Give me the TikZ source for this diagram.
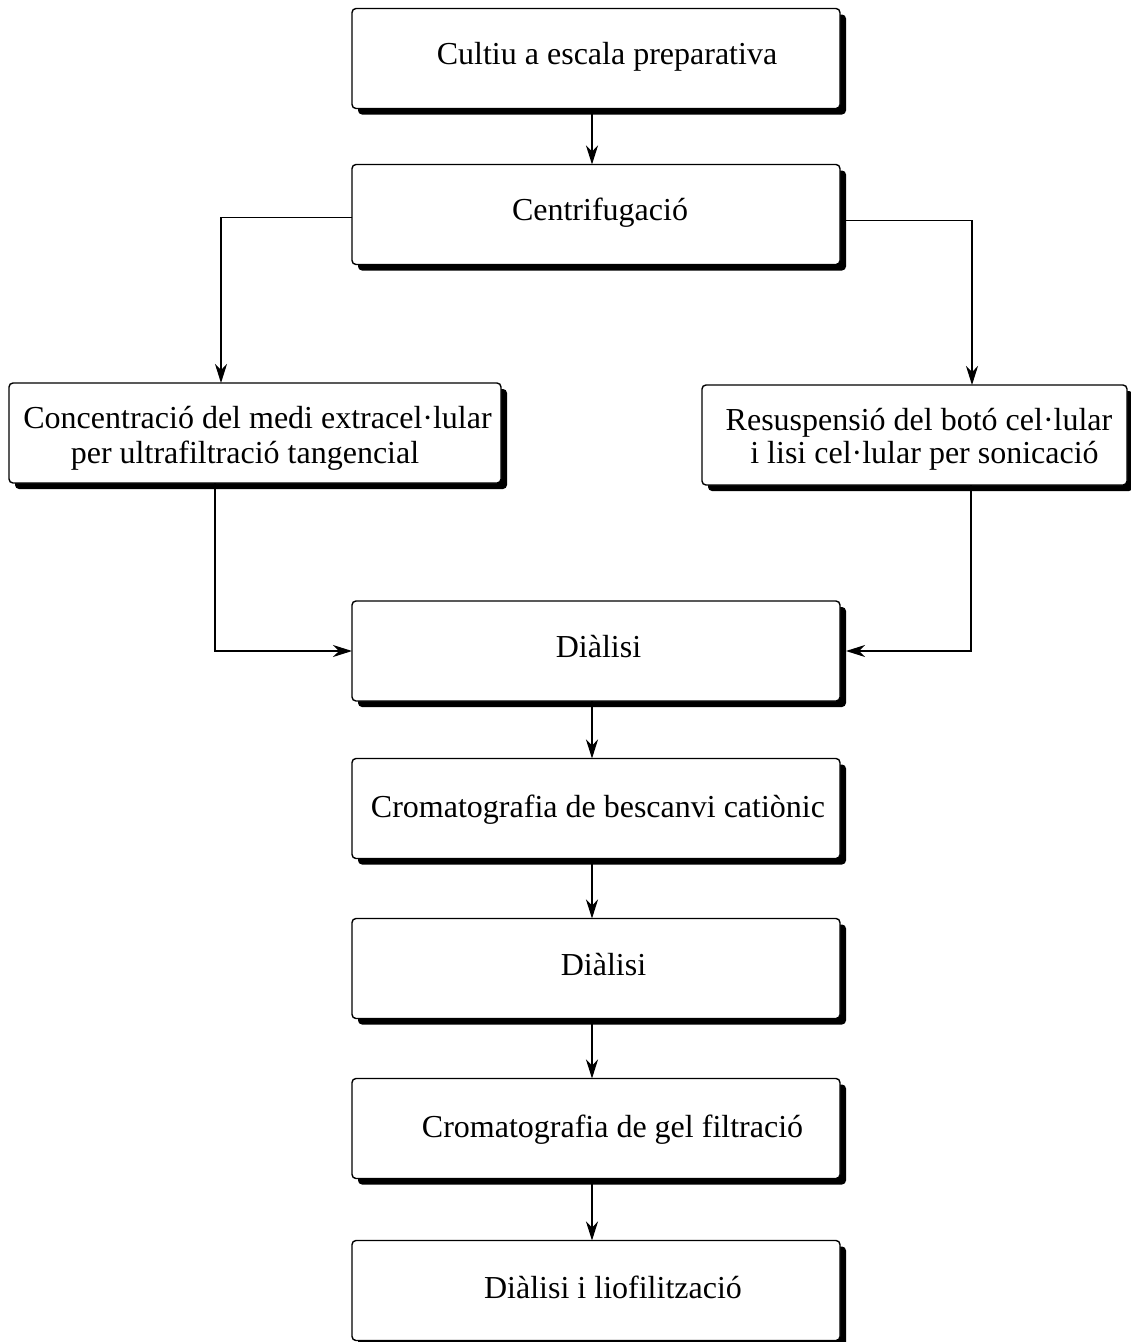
\documentclass[tikz,border=0pt]{standalone}
\usepackage{fontspec}
\setmainfont{Liberation Serif}
\usetikzlibrary{arrows.meta,shadows}
\tikzset{
  box/.style={draw, line width=1.4pt, rounded corners=4pt, fill=white, inner sep=0pt, outer sep=0pt,
    minimum width=488pt, minimum height=100pt,
    drop shadow={shadow xshift=6pt, shadow yshift=-6pt, fill=black, opacity=1}},
  txt/.style={anchor=base, inner sep=0pt, font=\fontsize{32}{36}\selectfont},
  arr/.style={line width=1.2pt, -{Stealth[length=19pt,width=12pt,inset=6pt]}}
}
\begin{document}
\begin{tikzpicture}[x=1pt,y=-1pt]
\useasboundingbox (0,0) rectangle (1131,1342);
% boxes
\node[box] (B1) at (596,58.5) {};
\node[box] (B2) at (596,214.5) {};
\node[box, minimum width=492pt] (L) at (255,433) {};
\node[box, minimum width=425pt] (R) at (914.5,435) {};
\node[box] (D1) at (596,651) {};
\node[box] (C1) at (596,808.5) {};
\node[box] (D2) at (596,968.5) {};
\node[box] (C2) at (596,1128.5) {};
\node[box] (F) at (596,1290.5) {};
% texts
\node[txt] (t1) at (607,64) {Cultiu a escala preparativa};
\node[txt] (t2) at (600,220) {Centrifugació};
\node[txt] (tL1) at (257.5,428) {Concentració del medi extracel·lular};
\node[txt] (tL2) at (245,463) {per ultrafiltració tangencial};
\node[txt] (tR1) at (919,430) {Resuspensió del botó cel·lular};
\node[txt] (tR2) at (924.5,463) {i lisi cel·lular per sonicació};
\node[txt] (tD1) at (598.5,657) {Diàlisi};
\node[txt] (tC1) at (598,817) {Cromatografia de bescanvi catiònic};
\node[txt] (tD2) at (603.5,975) {Diàlisi};
\node[txt] (tC2) at (612.5,1137) {Cromatografia de gel filtració};
\node[txt] (tF) at (613,1298) {Diàlisi i liofilització};
% connectors
\draw[arr] ([xshift=-4pt]B1.south) -- ([xshift=-4pt]B2.north);
\draw[arr] ([yshift=-3pt]B2.west) -| ([xshift=212pt]L.north west);
\draw[arr] ([xshift=6pt,yshift=-6pt]B2.east) -| ([xshift=270pt]R.north west);
\draw[arr] ([xshift=206pt]L.south west) |- (D1.west);
\draw[arr] ([xshift=269pt]R.south west) |- ([xshift=6pt]D1.east);
\draw[arr] ([xshift=-4pt]D1.south) -- ([xshift=-4pt]C1.north);
\draw[arr] ([xshift=-4pt]C1.south) -- ([xshift=-4pt]D2.north);
\draw[arr] ([xshift=-4pt]D2.south) -- ([xshift=-4pt]C2.north);
\draw[arr] ([xshift=-4pt]C2.south) -- ([xshift=-4pt]F.north);
\end{tikzpicture}
\end{document}
